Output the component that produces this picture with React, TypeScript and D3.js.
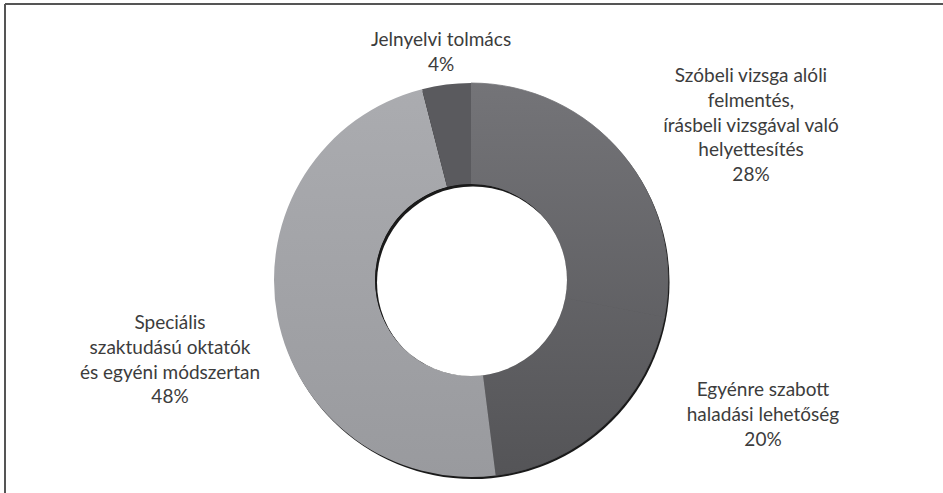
import React from "react";
import * as d3 from "d3";

const categories = [
  "Szóbeli vizsga alóli felmentés, írásbeli vizsgával való helyettesítés",
  "Egyénre szabott haladási lehetőség",
  "Speciális szaktudású oktatók és egyéni módszertan",
  "Jelnyelvi tolmács",
];
const values = [28, 20, 48, 4];
const labelLines = [
  ["Szóbeli vizsga alóli", "felmentés,", "írásbeli vizsgával való", "helyettesítés", "28%"],
  ["Egyénre szabott", "haladási lehetőség", "20%"],
  ["Speciális", "szaktudású oktatók", "és egyéni módszertan", "48%"],
  ["Jelnyelvi tolmács", "4%"],
];
const fills = ["url(#gDark)", "url(#gDark)", "url(#gLight)", "#5a5a5e"];
// label anchor: center x, first baseline y
const labelPos = [
  [751, 82],
  [763, 396],
  [170, 329],
  [441, 46],
];

export default function App() {
  const W = 943, H = 493;
  const cx = 471, cy = 280, R = 197, r = 96;
  const pie = d3.pie<number>().sort(null).value((d) => d);
  const arcs = pie(values);
  const arcGen = d3.arc<d3.PieArcDatum<number>>().innerRadius(r).outerRadius(R);
  const lh = 24.8;
  return (
    <svg width={W} height={H} style={{ position: "absolute", left: 0, top: 0, background: "#fff" }}>
      <defs>
        <linearGradient id="gDark" gradientUnits="userSpaceOnUse" x1="0" y1={-R} x2="0" y2={R}>
          <stop offset="0" stopColor="#747478" />
          <stop offset="1" stopColor="#545457" />
        </linearGradient>
        <linearGradient id="gLight" gradientUnits="userSpaceOnUse" x1="0" y1={-R} x2="0" y2={R}>
          <stop offset="0" stopColor="#abacb0" />
          <stop offset="1" stopColor="#999a9e" />
        </linearGradient>
        <clipPath id="holeClip">
          <circle cx={cx} cy={cy} r={r} />
        </clipPath>
      </defs>
      {/* frame */}
      <line x1={5} y1={4} x2={W} y2={4} stroke="#555" strokeWidth={2} />
      <line x1={5} y1={4} x2={5} y2={H} stroke="#555" strokeWidth={2} />
      {/* outer shadow */}
      <circle cx={cx + 1.5} cy={cy + 2} r={R} fill="#1a1a1a" />
      <g transform={`translate(${cx},${cy})`}>
        {arcs.map((a, i) => (
          <path
            key={categories[i]}
            d={arcGen(a) || ""}
            fill={fills[i]}
            stroke={i < 2 ? fills[i] : "none"}
            strokeWidth={0.8}
          />
        ))}
      </g>
      {/* inner shadow */}
      <g clipPath="url(#holeClip)">
        <circle cx={cx} cy={cy} r={r} fill="#1a1a1a" />
        <circle cx={cx + 2} cy={cy + 2.5} r={r} fill="#fff" />
      </g>
      {labelLines.map((lines, i) => (
        <text
          key={categories[i]}
          x={labelPos[i][0]}
          y={labelPos[i][1]}
          textAnchor="middle"
          fontFamily="Lato, sans-serif"
          fontSize={19}
          fill="#3c3c3c"
        >
          {lines.map((t, j) => (
            <tspan key={j} x={labelPos[i][0]} dy={j === 0 ? 0 : lh}>
              {t}
            </tspan>
          ))}
        </text>
      ))}
    </svg>
  );
}
